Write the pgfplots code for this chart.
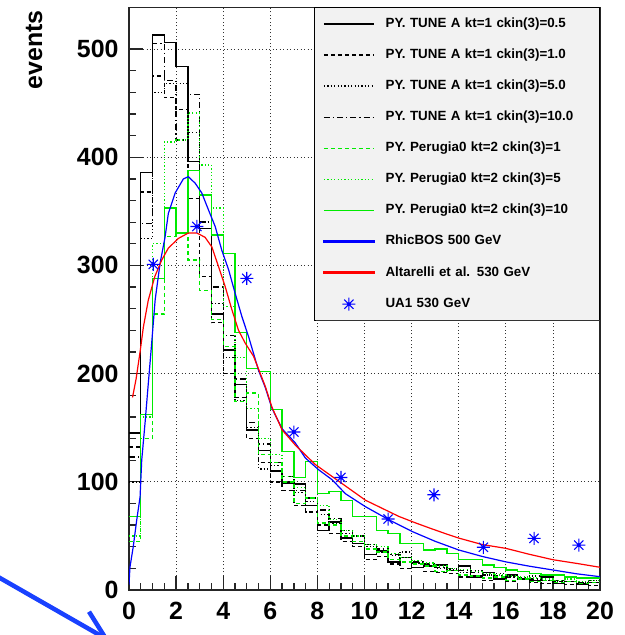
\documentclass[border=0pt]{standalone}
\usepackage{fontspec}
\setmainfont{Liberation Sans}
\usepackage{pgfplots}
\usepackage{pgfplotstable}
\pgfplotsset{compat=1.18}
\usetikzlibrary{arrows.meta}

\definecolor{hgreen}{RGB}{0,235,0}
\definecolor{curveblue}{RGB}{0,0,255}
\definecolor{curvered}{RGB}{255,0,0}
\definecolor{legfill}{RGB}{242,242,242}
\definecolor{arrowblue}{RGB}{25,65,255}

% eight-armed star with a filled centre
\pgfdeclareplotmark{rootstar}{%
  \pgfpathmoveto{\pgfqpoint{-\pgfplotmarksize}{0pt}}\pgfpathlineto{\pgfqpoint{\pgfplotmarksize}{0pt}}%
  \pgfpathmoveto{\pgfqpoint{0pt}{-\pgfplotmarksize}}\pgfpathlineto{\pgfqpoint{0pt}{\pgfplotmarksize}}%
  \pgfpathmoveto{\pgfqpoint{-0.707\pgfplotmarksize}{-0.707\pgfplotmarksize}}\pgfpathlineto{\pgfqpoint{0.707\pgfplotmarksize}{0.707\pgfplotmarksize}}%
  \pgfpathmoveto{\pgfqpoint{-0.707\pgfplotmarksize}{0.707\pgfplotmarksize}}\pgfpathlineto{\pgfqpoint{0.707\pgfplotmarksize}{-0.707\pgfplotmarksize}}%
  \pgfusepathqstroke
  \pgfpathcircle{\pgfpointorigin}{0.3\pgfplotmarksize}\pgfusepathqfill
}

\pgfplotsset{
  histleg/.style={legend image code/.code={\draw[##1] (0bp,0bp) -- (50bp,0bp);}},
  blueleg/.style={legend image code/.code={\fill[fill=curveblue] (0bp,-0.75bp) rectangle (50bp,0.75bp);}},
  redleg/.style={legend image code/.code={\fill[fill=curvered] (0bp,-0.75bp) rectangle (50bp,0.75bp);}},
  starleg/.style={legend image code/.code={\draw[mark repeat=2,mark phase=2,##1] plot coordinates {(0bp,0bp) (25bp,0bp) (50bp,0bp)};}},
  hist/.style={const plot, line width=1.4bp, histleg},
  dashA/.style={dash pattern=on 4bp off 3bp},
  dotA/.style={dash pattern=on 1.2bp off 2.2bp},
  dashdotA/.style={dash pattern=on 6bp off 3bp on 1.2bp off 3bp},
}

% bin lower edges (width 0.5), one column per simulated sample
\pgfplotstableread{
x     sa   sb   sc   sd   ge   gf   gg
0.0   145  132  100  123  45   50   68
0.5   386  368  325  339  140  160  162
1.0   513  475  460  505  255  320  288
1.5   506  455  468  471  327  414  353
2.0   484  444  468  416  330  416  330
2.5   396  362  423  458  305  441  388
3.0   334  290  340  340  277  393  365
3.5   255  247  265  280  250  353  328
4.0   222  200  215  235  225  262  311
4.5   190  178  175  195  174  215  238
5.0   148  140  150  155  182  168  205
5.5   129  118  112  135  125  140  202
6.0   110  100  115  118  118  125  167
6.5   99   92   100  105  100  105  128
7.0   98   78   90   92   80   95   104
7.5   78   72   82   85   85   85   119
8.0   55   60   70   74   62   78   89
8.5   63   52   62   66   60   65   91
9.0   48   45   52   55   50   55   83
9.5   43   40   50   50   45   50   68
10.0  33   28   40   42   38   42   68
10.5  36   31   35   38   35   40   55
11.0  26   24   32   33   28   34   52
11.5  30   20   35   30   26   30   43
12.0  21   21   25   26   24   27   43
12.5  22   17   22   24   22   25   37
13.0  23   16   20   21   17   22   38
13.5  18   15   19   20   18   20   34
14.0  22   12   16   18   14   19   28
14.5  12   13   18   16   13   17   28
15.0  16   9    14   14   11   15   23
15.5  10   11   15   13   12   14   21
16.0  14   8    12   12   9    13   18.5
16.5  10   10   10   11   10   12   17
17.0  9    7    13   10   8    11   15.4
17.5  12   6    9    9    9    10   14
18.0  6    8    8    9    7    9    14
18.5  8    5    12   8    8    10   12
19.0  5    6    7    7    6    8    11
19.5  7    4    9    7    7    9    11
20.0  7    4    9    7    7    9    11
}\hists

\pgfplotstableread{
x     y
0.0   5
0.04  21
0.18  40
0.33  65
0.47  86
0.54  120
0.68  154
0.82  191
0.94  222
1.11  268
1.32  302
1.53  326
1.67  348
1.96  367
2.31  380
2.52  382
2.81  376
3.09  367
3.38  351
3.66  336
3.94  314
4.23  296
4.51  274
4.79  253
5.08  234
5.5   203
5.79  187
6.07  168
6.5   149
7.06  136
7.49  122
8.06  111
8.62  102
9.19  89
10.04 77
11.03 65
12.03 54
13.0  45
14.0  37
15.0  31
16.0  26
17.0  22
18.0  18.5
19.0  15
20.0  12.3
}\rhicbos

\pgfplotstableread{
x     y
0.15  178
0.3   195
0.47  220
0.61  243
0.82  268
1.1   290
1.39  305
1.67  316
2.1   325
2.52  330
2.88  330
3.23  326
3.52  317
3.8   299
4.09  280
4.37  259
4.65  240
4.94  228
5.29  216
5.79  188
6.07  169
6.5   148
7.06  134
7.91  116
8.62  105
9.33  94
10.04 83
10.75 75.5
11.46 68
12.17 62
12.8  57
13.45 52
14.0  48
15.0  42
16.0  38.5
17.0  33
18.0  28
19.0  24.6
20.0  21
}\altarelli

\pgfplotstableread{
x     y
1.03  301
2.88  336
5.0   288
7.0   146
9.0   104
11.0  65.6
12.95 88
15.05 39.5
17.2  47.7
19.1  41.5
}\uaone

\begin{document}
\begin{tikzpicture}
\useasboundingbox (0,0) rectangle (625bp,635bp);
\begin{axis}[
  at={(129bp,45bp)}, anchor=south west,
  scale only axis, width=471bp, height=582.7bp,
  xmin=0, xmax=20, ymin=0, ymax=538.6,
  xtick={0,2,...,20}, ytick={0,100,...,500},
  minor x tick num=3, minor y tick num=4,
  tick align=inside, tick pos=left,
  major tick length=14bp, minor tick length=7bp,
  grid=major,
  major grid style={black!80, line width=0.8bp, dash pattern=on 1bp off 2.5bp},
  axis line style={black!85, line width=1.3bp},
  tick style={black!85, line width=1.3bp},
  tick label style={font=\fontsize{25}{30}\selectfont\bfseries},
  /pgf/number format/assume math mode=true,
  xticklabel style={yshift=-9bp},
  yticklabel style={xshift=-7bp},
  legend cell align=left,
  legend style={at={(1,1)}, anchor=north east, draw=black, line width=0.8bp,
    fill=legfill, font=\fontsize{13.4}{15}\selectfont\bfseries,
    inner xsep=9bp, inner ysep=10.1bp, row sep=18.8bp, column sep=11bp,
    nodes={inner sep=0pt, text width=205bp, text height=9.5bp, text depth=2.8bp}},
]
\addplot[hist, color=black] table[x=x, y=sa] {\hists};
\addlegendentry{PY. TUNE A kt=1 ckin(3)=0.5}
\addplot[hist, color=black, dashA] table[x=x, y=sb] {\hists};
\addlegendentry{PY. TUNE A kt=1 ckin(3)=1.0}
\addplot[hist, color=black, dotA] table[x=x, y=sc] {\hists};
\addlegendentry{PY. TUNE A kt=1 ckin(3)=5.0}
\addplot[hist, color=black, dashdotA] table[x=x, y=sd] {\hists};
\addlegendentry{PY. TUNE A kt=1 ckin(3)=10.0}
\addplot[hist, color=hgreen, dashA] table[x=x, y=ge] {\hists};
\addlegendentry{PY. Perugia0 kt=2 ckin(3)=1}
\addplot[hist, color=hgreen, dotA] table[x=x, y=gf] {\hists};
\addlegendentry{PY. Perugia0 kt=2 ckin(3)=5}
\addplot[hist, color=hgreen] table[x=x, y=gg] {\hists};
\addlegendentry{PY. Perugia0 kt=2 ckin(3)=10}
\addplot[color=curveblue, line width=1.2bp, blueleg] table[x=x, y=y] {\rhicbos};
\addlegendentry{RhicBOS 500 GeV}
\addplot[color=curvered, line width=1.2bp, redleg] table[x=x, y=y] {\altarelli};
\addlegendentry{Altarelli et al. 530 GeV}
\addplot[only marks, mark=rootstar, mark size=6.5bp, color=curveblue, line width=1.1bp, starleg] table[x=x, y=y] {\uaone};
\addlegendentry{UA1 530 GeV}
\end{axis}
% heavier lower edge of the legend frame
\draw[black!80, line width=1.6bp] ([xshift=-284bp,yshift=-313.2bp]current axis.north east) -- ([yshift=-313.2bp]current axis.north east);
\node[rotate=90, anchor=east, inner sep=0pt, font=\fontsize{25}{30}\selectfont\bfseries] at (34bp,625bp) {events};
\draw[arrowblue, line width=4.5bp, -{Straight Barb[length=28bp,width=30bp]}] (-10bp,62.7bp) -- (110bp,-6bp);
\end{tikzpicture}
\end{document}
